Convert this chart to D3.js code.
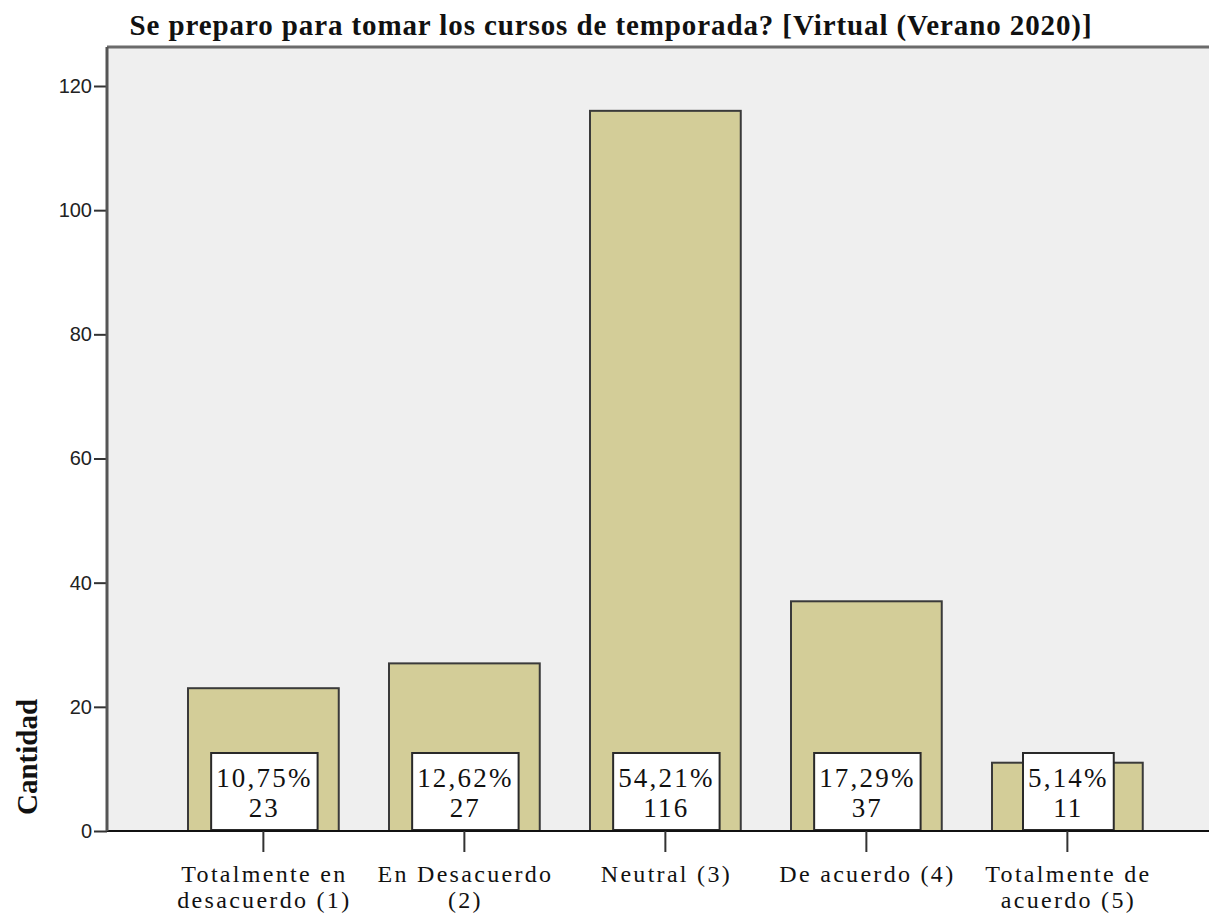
<!DOCTYPE html>
<html>
<head>
<meta charset="utf-8">
<script src="https://cdn.jsdelivr.net/npm/d3@7"></script>
<style>
  body { margin: 0; background: #fff; }
  svg { display: block; }
</style>
</head>
<body>
<div class="bar-chart"></div>
<script>
// DATA ------------------------------------
const categories = ['Totalmente en desacuerdo (1)', 'En Desacuerdo (2)', 'Neutral (3)', 'De acuerdo (4)', 'Totalmente de acuerdo (5)']
const tickLines = [['Totalmente en', 'desacuerdo (1)'], ['En Desacuerdo', '(2)'], ['Neutral (3)'], ['De acuerdo (4)'], ['Totalmente de', 'acuerdo (5)']]
const counts = [23, 27, 116, 37, 11]
const percents = ['10,75%', '12,62%', '54,21%', '17,29%', '5,14%']
const yTicks = [0, 20, 40, 60, 80, 100, 120]
const title = 'Se preparo para tomar los cursos de temporada? [Virtual (Verano 2020)]'

const data = categories.map((c, i) => ({cat: c, lines: tickLines[i], n: counts[i], pct: percents[i]}))

// CHART INIT ------------------------------
const W = 1209, H = 919
const margin = {top: 47, right: 0, bottom: 88, left: 107}
const width = W - margin.left - margin.right
const height = H - margin.top - margin.bottom
const serif = "'Liberation Serif', 'Times New Roman', serif"

const svg = d3.select(".bar-chart").append("svg")
    .attr("width", W)
    .attr("height", H)

// plot background
svg.append("rect")
    .attr("x", margin.left)
    .attr("y", margin.top)
    .attr("width", width)
    .attr("height", height)
    .attr("fill", "#efefef")

// top border
svg.append("line")
    .attr("x1", margin.left).attr("x2", W)
    .attr("y1", margin.top).attr("y2", margin.top)
    .attr("stroke", "#6b6b6b")
    .attr("stroke-width", 3)

const g = svg.append("g")
    .attr("transform", `translate(${margin.left},${margin.top})`)

const xScale = d3.scaleBand()
    .domain(categories)
    .range([137.75 - margin.left, 1193 - margin.left])
    .paddingInner(0.25)
    .paddingOuter(0.25)

const yScale = d3.scaleLinear()
    .domain([0, 120])
    .range([height, height - 745])

// bars
g.selectAll("rect.bar")
    .data(data)
    .join("rect")
        .attr("class", "bar")
        .attr("x", d => xScale(d.cat))
        .attr("y", d => yScale(d.n))
        .attr("width", xScale.bandwidth())
        .attr("height", d => height - yScale(d.n))
        .attr("fill", "#d3cd98")
        .attr("stroke", "#3a3a3a")
        .attr("stroke-width", 2)

// value labels (percent + count) in white boxes
const lab = g.selectAll("g.lab")
    .data(data)
    .join("g")
        .attr("class", "lab")
        .attr("transform", d => `translate(${xScale(d.cat) + xScale.bandwidth() / 2},${height})`)

const labText = lab.append("text")
    .attr("text-anchor", "middle")
    .attr("font-family", serif)
    .attr("font-size", 27)
    .attr("letter-spacing", 2.2)
    .attr("fill", "#111")
labText.append("tspan").attr("x", 1).attr("y", -44).text(d => d.pct)
labText.append("tspan").attr("x", 1).attr("y", -14).text(d => d.n)

labText.each(function() {
    const bb = this.getBBox()
    d3.select(this.parentNode).insert("rect", "text")
        .attr("x", bb.x - 5)
        .attr("y", -78)
        .attr("width", bb.width + 10)
        .attr("height", 77)
        .attr("fill", "#fff")
        .attr("stroke", "#2a2a2a")
        .attr("stroke-width", 2)
})

// y axis
const yAx = d3.axisLeft(yScale).tickValues(yTicks).tickSize(13).tickPadding(2)
const yGroup = g.append("g").call(yAx)
yGroup.select(".domain").remove()
yGroup.selectAll(".tick line").attr("stroke", "#333").attr("stroke-width", 2)
yGroup.selectAll(".tick text")
    .attr("font-family", "'Liberation Sans', Arial, sans-serif")
    .attr("font-size", 20)
    .attr("fill", "#222")

svg.append("line")
    .attr("x1", margin.left).attr("x2", margin.left)
    .attr("y1", margin.top).attr("y2", margin.top + height)
    .attr("stroke", "#555")
    .attr("stroke-width", 3)

// x axis
const xGroup = g.append("g").attr("transform", `translate(0,${height})`)
xGroup.append("line")
    .attr("x1", 0).attr("x2", width)
    .attr("stroke", "#111")
    .attr("stroke-width", 2)
const xt = xGroup.selectAll("g.xt")
    .data(data)
    .join("g")
        .attr("class", "xt")
        .attr("transform", d => `translate(${xScale(d.cat) + xScale.bandwidth() / 2},0)`)
xt.append("line").attr("y2", 21).attr("stroke", "#333").attr("stroke-width", 2)
const xtText = xt.append("text")
    .attr("text-anchor", "middle")
    .attr("font-family", serif)
    .attr("font-size", 24)
    .attr("letter-spacing", 2.3)
    .attr("fill", "#111")
xtText.selectAll("tspan")
    .data(d => d.lines)
    .join("tspan")
        .attr("x", 1)
        .attr("y", (d, i) => 51 + i * 26)
        .text(d => d)

// titles
svg.append("text")
    .attr("x", 611)
    .attr("y", 35)
    .attr("text-anchor", "middle")
    .attr("font-family", serif)
    .attr("font-weight", "bold")
    .attr("font-size", 29)
    .attr("letter-spacing", 0.9)
    .attr("fill", "#111")
    .text(title)

svg.append("text")
    .attr("transform", "translate(37,757) rotate(-90)")
    .attr("text-anchor", "middle")
    .attr("font-family", serif)
    .attr("font-weight", "bold")
    .attr("font-size", 29)
    .attr("fill", "#111")
    .text("Cantidad")
</script>
</body>
</html>
